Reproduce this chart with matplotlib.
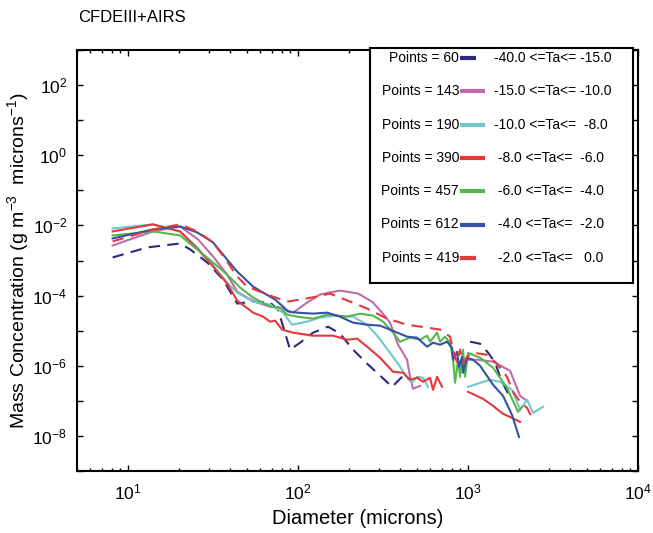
import numpy as np
import matplotlib
matplotlib.use("Agg")
import matplotlib.pyplot as plt
from matplotlib.ticker import FixedLocator, LogLocator, NullFormatter, LogFormatterSciNotation

plt.rcParams["font.family"] = ["Liberation Sans", "DejaVu Sans"]
plt.rcParams["mathtext.fontset"] = "custom"
plt.rcParams["mathtext.rm"] = "Liberation Sans"
plt.rcParams["mathtext.it"] = "Liberation Sans:italic"

nan = np.nan

# -40.0 <= Ta <= -15.0
d_m40 = [8.1, 12.9, 20.2, 23.2, 29.2, 36.2, 43.8, 54.3, 68.4, 76.2, 89.7, 102.7, 122.5, 150,
         176.5, 210.6, 254.9, 295.6, 357.4, 414.7, 700, 1027, 1177, 1313, 1443, 1543, 1652, 1766]
m_m40 = [1.22e-3, 2.35e-3, 3.06e-3, 2.06e-3, 8.77e-4, 2.87e-4, 5.91e-5, 6.74e-5, 6.31e-5, 3.98e-5,
         2.87e-6, 4.54e-6, 8.77e-6, 1.30e-5, 8.21e-6, 2.87e-6, 1.14e-6, 5.91e-7, 2.51e-7, 5.18e-7,
         nan, 4.85e-6, 4.25e-6, 2.35e-6, 1.22e-6, 4.85e-7, 2.35e-7, 1.30e-7]

# -15.0 <= Ta <= -10.0
d_m15 = [8.1, 14.0, 20.2, 25.8, 31.6, 38.2, 43.8, 50.1, 57.4, 68.4, 78.3, 93.5, 113, 134.6, 176.5,
         225.5, 272.3, 312, 347.6, 387.5, 437.8, 455.8, 474.2, 522, 700, 1000, 1146, 1403, 1766,
         2024, 2224]
m_m15 = [2.68e-3, 6.74e-3, 9.36e-3, 3.98e-3, 1.30e-3, 3.98e-4, 1.30e-4, 8.77e-5, 6.31e-5, 4.85e-5,
         4.54e-5, 3.27e-5, 6.31e-5, 1.07e-4, 1.39e-4, 1.14e-4, 6.74e-5, 3.27e-5, 1.69e-5, 3.98e-6,
         1.48e-6, 4.85e-7, 2.20e-7, 2.68e-7, nan, 1.48e-6, 1.48e-6, 1.30e-6, 7.20e-7, 1.39e-7,
         1.0e-7]

# -10.0 <= Ta <= -8.0
d_m10 = [8.1, 14.0, 20.2, 25.5, 31.6, 38.2, 43.8, 54.3, 68.4, 81.6, 92.2, 113, 134.6, 160.6,
         210.6, 254.9, 291.6, 347.6, 398.1, 437.8, 468.6, 501.2, 543.3, 582, 700, 1000, 1348,
         1543, 1814, 2024, 2224, 2411, 2761]
m_m10 = [8.21e-3, 1.07e-2, 6.74e-3, 2.35e-3, 7.20e-4, 2.35e-4, 1.22e-4, 6.74e-5, 5.53e-5, 3.27e-5,
         1.48e-5, 1.81e-5, 2.35e-5, 2.68e-5, 2.51e-5, 1.48e-5, 7.20e-6, 2.35e-6, 9.36e-7, 4.54e-7,
         3.27e-7, 4.85e-7, 4.54e-7, 2.51e-7, nan, 2.51e-7, 3.98e-7, 3.49e-7, 2.06e-7, 5.53e-8,
         1.07e-7, 4.54e-8, 6.74e-8]

# -8.0 <= Ta <= -6.0
d_m8 = [8.1, 14.0, 20.2, 25.5, 31.6, 38.2, 43.8, 54.3, 62.2, 68.4, 73.2, 80.5, 93.5, 122.5, 160.6,
        194.2, 222.4, 254.9, 303.6, 362.3, 414.7, 455.8, 501.2, 543.3, 597.6, 622.3, 657.3, 703.2,
        800, 1000, 1225, 1403, 1606, 1766, 2024]
m_m8 = [6.74e-3, 1.07e-2, 6.74e-3, 2.20e-3, 6.74e-4, 2.20e-4, 7.20e-5, 3.27e-5, 2.51e-5, 1.81e-5,
        1.93e-5, 1.07e-5, 8.77e-6, 7.20e-6, 7.20e-6, 5.53e-6, 5.91e-6, 3.49e-6, 1.69e-6, 6.74e-7,
        6.31e-7, 3.98e-7, 4.54e-7, 3.49e-7, 4.54e-7, 2.06e-7, 4.85e-7, 2.51e-7, nan, 1.81e-7,
        1.14e-7, 7.20e-8, 4.25e-8, 3.49e-8, 2.51e-8]

# -6.0 <= Ta <= -4.0
d_m6 = [8.1, 14.0, 20.2, 25.5, 31.6, 38.2, 45.6, 54.3, 68.4, 78.3, 86.1, 98.6, 122.5, 148.1, 194.2,
        231.6, 276.1, 316.2, 362.3, 398.1, 455.8, 522, 574, 597.6, 657.3, 684.3, 732.4, 783.5,
        816.2, 838.8, 873.5, 897.1, 934.7, 960.4, 1000, 1177, 1403, 1695, 1968, 2079]
m_m6 = [5.18e-3, 6.74e-3, 5.18e-3, 2.06e-3, 8.77e-4, 3.98e-4, 1.69e-4, 8.77e-5, 4.85e-5, 4.54e-5,
        2.87e-5, 2.51e-5, 2.20e-5, 2.87e-5, 2.51e-5, 3.06e-5, 2.68e-5, 1.81e-5, 8.77e-6, 4.85e-6,
        6.31e-6, 5.53e-6, 7.20e-6, 4.85e-6, 8.77e-6, 4.85e-6, 6.74e-6, 4.54e-6, 1.48e-6, 3.27e-7,
        1.48e-6, 4.85e-7, 2.87e-6, 4.85e-7, 2.35e-6, 1.69e-6, 8.77e-7, 2.35e-7, 4.85e-8, 6.74e-8]

# -4.0 <= Ta <= -2.0
d_m4 = [8.1, 14.0, 20.2, 25.5, 31.6, 38.2, 43.8, 54.3, 62.2, 73.2, 81.6, 87.3, 98.6, 122.5, 148.1,
        176.5, 210.6, 254.9, 303.6, 347.6, 437.8, 501.2, 574, 622.3, 684.3, 751.6, 805.3, 816.2,
        861.8, 885.4, 922, 934.7, 986.5, 1070, 1177, 1403, 1606, 1814, 1995]
m_m4 = [4.25e-3, 7.69e-3, 9.36e-3, 6.31e-3, 3.27e-3, 1.07e-3, 4.85e-4, 1.81e-4, 1.22e-4, 7.69e-5,
        4.85e-5, 3.49e-5, 3.27e-5, 3.06e-5, 3.27e-5, 2.51e-5, 1.69e-5, 1.48e-5, 1.39e-5, 1.07e-5,
        6.74e-6, 6.31e-6, 3.49e-6, 4.54e-6, 3.98e-6, 4.85e-6, 3.27e-6, 1.48e-6, 2.51e-6, 9.36e-7,
        1.81e-6, 6.31e-7, 1.69e-6, 1.48e-6, 1.0e-6, 2.87e-7, 1.39e-7, 3.98e-8, 9.36e-9]

# -2.0 <= Ta <= 0.0
d_m2 = [8.1, 14.0, 20.2, 25.5, 31.6, 38.2, 43.8, 50.1, 65.7, 86.1, 102.7, 129.4, 154, 202.3,
        254.9, 334, 437.8, 574, 684.3, 783.5, 816.2, 861.8, 897.1, 934.7, 986.5, 1070, 1294,
        1482, 1695, 1841, 2024, 2224, 2411]
m_m2 = [3.49e-3, 7.69e-3, 1.07e-2, 6.74e-3, 3.27e-3, 9.36e-4, 3.49e-4, 1.81e-4, 1.07e-4, 6.74e-5,
        7.69e-5, 9.36e-5, 1.14e-4, 6.74e-5, 4.25e-5, 2.20e-5, 1.48e-5, 1.22e-5, 1.07e-5, 6.74e-6,
        2.87e-6, 1.22e-6, 2.87e-6, 1.22e-6, 1.81e-6, 2.35e-6, 2.06e-6, 1.14e-6, 4.85e-7, 1.81e-7,
        9.36e-8, 6.31e-8, 2.87e-8]

points = [60, 143, 190, 390, 457, 612, 419]
ta_lo = [-40.0, -15.0, -10.0, -8.0, -6.0, -4.0, -2.0]
ta_hi = [-15.0, -10.0, -8.0, -6.0, -4.0, -2.0, 0.0]

series = [(d_m40, m_m40), (d_m15, m_m15), (d_m10, m_m10), (d_m8, m_m8),
          (d_m6, m_m6), (d_m4, m_m4), (d_m2, m_m2)]
colors = ["#2d2a7e", "#c169aa", "#72c7ca", "#e5383a", "#55b84a", "#3552a3", "#e5383a"]
dashed = [True, False, False, False, False, False, True]

fig = plt.figure(figsize=(6.53, 5.33), dpi=100, facecolor="white")
ax = fig.add_axes([77 / 653, 62 / 533, 561 / 653, 421 / 533])

for (d, m), c, dsh in zip(series, colors, dashed):
    if dsh:
        ax.plot(d, m, color=c, lw=1.5, dashes=(5.5, 3.5))
    else:
        ax.plot(d, m, color=c, lw=1.5)

ax.set_xscale("log")
ax.set_yscale("log")
ax.set_xlim(5, 1e4)
ax.set_ylim(1e-9, 1e3)

ax.xaxis.set_major_locator(FixedLocator([1e1, 1e2, 1e3, 1e4]))
ax.xaxis.set_minor_locator(LogLocator(base=10, subs=np.arange(2, 10), numticks=20))
ax.xaxis.set_major_formatter(LogFormatterSciNotation())
ax.xaxis.set_minor_formatter(NullFormatter())
ax.yaxis.set_major_locator(FixedLocator([10.0 ** k for k in range(-8, 3, 2)]))
ax.yaxis.set_minor_locator(FixedLocator([10.0 ** k for k in range(-9, 4, 2)]))
ax.yaxis.set_major_formatter(LogFormatterSciNotation())
ax.yaxis.set_minor_formatter(NullFormatter())

ax.tick_params(which="both", direction="in", top=True, right=True, width=1.0, labelsize=12.5)
ax.tick_params(axis="x", which="major", length=4, pad=8)
ax.tick_params(axis="x", which="minor", length=2.2)
ax.tick_params(axis="y", which="both", length=4, pad=7)
for sp in ax.spines.values():
    sp.set_linewidth(1.5)

ax.set_xlabel("Diameter (microns)", fontsize=14.5, labelpad=5)
ax.set_ylabel("Mass Concentration (g m$^{-3}$  microns$^{-1}$)", fontsize=14, labelpad=1)

fig.text(78 / 653, 1 - 18 / 533, "CFDEIII+AIRS", fontsize=12, ha="left", va="center")

# legend box drawn as its own frame
lg = fig.add_axes([370 / 653, 1 - 283 / 533, 263 / 653, 235 / 533])
lg.set_xlim(0, 263)
lg.set_ylim(235, 0)
lg.set_xticks([])
lg.set_yticks([])
lg.set_facecolor("white")
for sp in lg.spines.values():
    sp.set_linewidth(1.5)

for i in range(len(points)):
    yy = 10 + 33.3 * i
    lg.text(89, yy, "Points = %d" % points[i], fontsize=10, ha="right", va="center")
    seg_end = 106 if dashed[i] else 115
    lg.plot([90, seg_end], [yy, yy], color=colors[i], lw=3, solid_capstyle="butt")
    lg.text(124, yy, "%5.1f <=Ta<= %5.1f" % (ta_lo[i], ta_hi[i]), fontsize=10,
            ha="left", va="center")

fig.savefig("out.png", dpi=100, facecolor="white")
